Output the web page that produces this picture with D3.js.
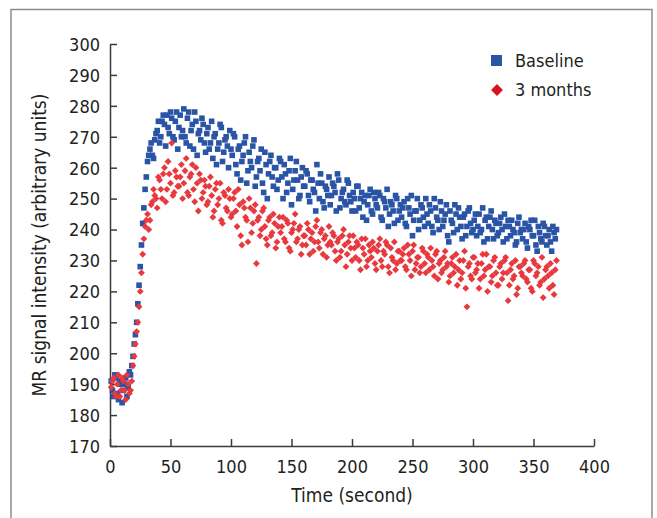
<!DOCTYPE html>
<html>
<head>
<meta charset="utf-8">
<script src="https://cdn.jsdelivr.net/npm/d3@7"></script>
<style>
  body { margin: 0; background: #fff; }
  svg text { font-family: "Liberation Sans Narrow", "DejaVu Sans Condensed", "Open Sans", sans-serif; fill: #231f20; }
</style>
</head>
<body>
<script>
// sample times (second), odd frames
var times = [
  1, 3, 5, 7, 9, 11, 13, 15, 17, 19,
  21, 23, 25, 27, 29, 31, 33, 35, 37, 39,
  41, 43, 45, 47, 49, 51, 53, 55, 57, 59,
  61, 63, 65, 67, 69, 71, 73, 75, 77, 79,
  81, 83, 85, 87, 89, 91, 93, 95, 97, 99,
  101, 103, 105, 107, 109, 111, 113, 115, 117, 119,
  121, 123, 125, 127, 129, 131, 133, 135, 137, 139,
  141, 143, 145, 147, 149, 151, 153, 155, 157, 159,
  161, 163, 165, 167, 169, 171, 173, 175, 177, 179,
  181, 183, 185, 187, 189, 191, 193, 195, 197, 199,
  201, 203, 205, 207, 209, 211, 213, 215, 217, 219,
  221, 223, 225, 227, 229, 231, 233, 235, 237, 239,
  241, 243, 245, 247, 249, 251, 253, 255, 257, 259,
  261, 263, 265, 267, 269, 271, 273, 275, 277, 279,
  281, 283, 285, 287, 289, 291, 293, 295, 297, 299,
  301, 303, 305, 307, 309, 311, 313, 315, 317, 319,
  321, 323, 325, 327, 329, 331, 333, 335, 337, 339,
  341, 343, 345, 347, 349, 351, 353, 355, 357, 359,
  361, 363, 365, 367, 369
];

var baseline = [
  191, 186, 192, 185, 190, 188, 192, 189, 193, 199,
  206, 216, 228, 242, 253, 262, 266, 264, 269, 272,
  268, 275, 274, 277, 271, 276, 269, 278, 273, 270,
  279, 268, 278, 272, 266, 275, 271, 269, 274, 265,
  273, 268, 263, 271, 266, 274, 262, 269, 267, 272,
  264, 270, 258, 267, 262, 268, 255, 265, 260, 269,
  257, 263, 266, 252, 261, 258, 264, 254, 260, 256,
  262, 250, 258, 255, 263, 253, 259, 256, 251, 260,
  254, 258, 249, 256, 252, 261, 250, 255, 247, 253,
  257, 251, 254, 246, 256, 250, 253, 248, 255, 249,
  252, 246, 254, 250, 244, 251, 248, 253, 245, 250,
  247, 251, 243, 249, 253, 245, 248, 242, 250, 246,
  244, 249, 241, 247, 251, 243, 246, 240, 248, 244,
  250, 242, 246, 239, 247, 243, 249, 241, 245, 238,
  246, 242, 248, 240, 244, 237, 245, 241, 247, 239,
  243, 238, 245, 240, 236, 244, 241, 246, 237, 242,
  239, 244, 236, 241, 243, 238, 240, 235, 242, 239,
  237, 242, 234, 240, 238, 243, 233, 239, 236, 241,
  235, 240, 233, 239, 240
];

var months3 = [
  189, 192, 186, 193, 188, 191, 185, 190, 188, 196,
  203, 210, 220, 232, 241, 245, 243, 249, 251, 247,
  256, 250, 260, 253, 258, 268, 252, 257, 254, 261,
  255, 263, 251, 258, 253, 260, 246, 256, 252, 254,
  249, 257, 244, 253, 248, 255, 242, 251, 246, 250,
  245, 252, 241, 248, 235, 247, 243, 250, 239, 246,
  229, 244, 240, 247, 237, 243, 238, 245, 234, 241,
  239, 244, 236, 242, 233, 240, 245, 237, 241, 235,
  238, 242, 232, 239, 236, 243, 234, 240, 237, 231,
  241, 235, 238, 230, 237, 233, 240, 228, 236, 234,
  238, 231, 235, 227, 234, 237, 230, 233, 236, 229,
  233, 237, 228, 232, 235, 226, 231, 236, 229, 233,
  230, 234, 227, 232, 225, 235, 229, 231, 228, 233,
  226, 231, 234, 228, 232, 224, 230, 227, 233, 229,
  225, 231, 228, 222, 230, 226, 233, 215, 229, 224,
  231, 227, 221, 229, 225, 232, 228, 223, 230, 226,
  222, 229, 226, 231, 217, 227, 224, 230, 221, 228,
  225, 230, 223, 227, 220, 229, 226, 222, 231, 224,
  228, 221, 226, 219, 230
];

// sample times (second), even frames
var timesB = [
  2, 4, 6, 8, 10, 12, 14, 16, 18, 20,
  22, 24, 26, 28, 30, 32, 34, 36, 38, 40,
  42, 44, 46, 48, 50, 52, 54, 56, 58, 60,
  62, 64, 66, 68, 70, 72, 74, 76, 78, 80,
  82, 84, 86, 88, 90, 92, 94, 96, 98, 100,
  102, 104, 106, 108, 110, 112, 114, 116, 118, 120,
  122, 124, 126, 128, 130, 132, 134, 136, 138, 140,
  142, 144, 146, 148, 150, 152, 154, 156, 158, 160,
  162, 164, 166, 168, 170, 172, 174, 176, 178, 180,
  182, 184, 186, 188, 190, 192, 194, 196, 198, 200,
  202, 204, 206, 208, 210, 212, 214, 216, 218, 220,
  222, 224, 226, 228, 230, 232, 234, 236, 238, 240,
  242, 244, 246, 248, 250, 252, 254, 256, 258, 260,
  262, 264, 266, 268, 270, 272, 274, 276, 278, 280,
  282, 284, 286, 288, 290, 292, 294, 296, 298, 300,
  302, 304, 306, 308, 310, 312, 314, 316, 318, 320,
  322, 324, 326, 328, 330, 332, 334, 336, 338, 340,
  342, 344, 346, 348, 350, 352, 354, 356, 358, 360,
  362, 364, 366, 368
];

var baselineB = [
  188, 193, 187, 191, 184, 190, 186, 194, 196, 203,
  210, 222, 235, 247, 257, 264, 268, 263, 271, 275,
  270, 277, 267, 273, 278, 270, 275, 266, 277, 272,
  270, 276, 267, 274, 278, 264, 272, 276, 268, 271,
  266, 275, 270, 261, 268, 273, 265, 270, 260, 266,
  271, 261, 266, 256, 264, 270, 259, 262, 267, 254,
  262, 259, 255, 265, 250, 262, 257, 260, 253, 263,
  257, 261, 252, 259, 248, 256, 262, 250, 257, 254,
  259, 251, 256, 253, 246, 255, 258, 249, 254, 251,
  248, 255, 252, 258, 247, 252, 249, 256, 251, 246,
  250, 254, 247, 252, 249, 243, 251, 246, 252, 248,
  252, 244, 250, 247, 241, 249, 246, 251, 243, 248,
  247, 242, 250, 245, 238, 246, 250, 243, 247, 241,
  245, 248, 241, 250, 244, 240, 246, 243, 248, 236,
  243, 239, 245, 247, 241, 244, 238, 246, 242, 240,
  245, 241, 239, 247, 243, 237, 244, 240, 243, 238,
  242, 240, 245, 237, 241, 243, 239, 236, 244, 240,
  240, 236, 241, 243, 238, 235, 241, 237, 242, 238,
  238, 236, 241, 237
];

var months3B = [
  191, 187, 190, 186, 192, 188, 193, 187, 191, 199,
  207, 215, 226, 237, 243, 240, 248, 253, 250, 257,
  253, 258, 249, 262, 255, 251, 259, 254, 257, 250,
  259, 252, 257, 261, 249, 255, 258, 250, 256, 248,
  254, 251, 246, 255, 250, 243, 252, 247, 253, 244,
  250, 246, 253, 238, 249, 244, 236, 247, 242, 248,
  243, 238, 246, 241, 235, 244, 239, 242, 236, 244,
  241, 237, 243, 234, 239, 242, 236, 240, 232, 238,
  235, 240, 237, 233, 241, 236, 239, 232, 238, 235,
  236, 239, 233, 236, 231, 238, 235, 232, 238, 230,
  234, 236, 230, 237, 232, 228, 235, 231, 234, 227,
  235, 230, 233, 236, 228, 234, 230, 227, 233, 230,
  232, 228, 235, 230, 233, 227, 231, 226, 234, 229,
  232, 227, 230, 225, 233, 229, 226, 231, 228, 223,
  229, 226, 232, 227, 224, 230, 221, 228, 225, 231,
  226, 229, 224, 232, 227, 220, 228, 225, 231, 222,
  228, 224, 230, 226, 222, 229, 225, 219, 228, 226,
  229, 224, 227, 221, 230, 225, 228, 223, 218, 227,
  225, 229, 222, 227
];

var xTicks = [0, 50, 100, 150, 200, 250, 300, 350, 400];
var yTicks = [170, 180, 190, 200, 210, 220, 230, 240, 250, 260, 270, 280, 290, 300];
var seriesNames = ["Baseline", "3 months"];

var W = 657, H = 518;
var mLeft = 110, mRight = 594, mTop = 44, mBottom = 446;

var svg = d3.select("body").append("svg")
    .attr("width", W)
    .attr("height", H);

// frame
svg.append("rect")
    .attr("x", 11).attr("y", 9.5)
    .attr("width", 641).attr("height", 520)
    .attr("fill", "none")
    .attr("stroke", "#8c8c8c")
    .attr("stroke-width", 1.5);

var x = d3.scaleLinear().domain([0, 400]).range([mLeft, mRight]);
var y = d3.scaleLinear().domain([170, 300]).range([mBottom, mTop]);

var xAxis = svg.append("g")
    .attr("transform", "translate(0," + mBottom + ")")
    .call(d3.axisBottom(x).tickValues(xTicks).tickSize(-7).tickPadding(14).tickSizeOuter(0));
var yAxis = svg.append("g")
    .attr("transform", "translate(" + mLeft + ",0)")
    .call(d3.axisLeft(y).tickValues(yTicks).tickSize(-7).tickPadding(10).tickSizeOuter(0));

[xAxis, yAxis].forEach(function(g) {
    g.select(".domain").attr("stroke", "#3a3a3a").attr("stroke-width", 1.5);
    g.selectAll(".tick line").attr("stroke", "#3a3a3a").attr("stroke-width", 1.5);
    g.selectAll(".tick text").style("font-size", "18px").attr("fill", "#231f20");
});
yAxis.selectAll(".tick text").attr("dy", "0.35em");

var pts = times.map(function(t, i) {
    return { t: t, b: baseline[i], m: months3[i] };
}).concat(timesB.map(function(t, i) {
    return { t: t, b: baselineB[i], m: months3B[i] };
}));

// baseline squares
svg.append("g").selectAll("rect")
    .data(pts)
    .join("rect")
    .attr("x", function(d) { return x(d.t) - 2.8; })
    .attr("y", function(d) { return y(d.b) - 2.8; })
    .attr("width", 5.6).attr("height", 5.6)
    .attr("fill", "#2a54a6");

// 3 months diamonds
var diamond = d3.symbol().type(d3.symbolDiamond2).size(30);
svg.append("g").selectAll("path")
    .data(pts)
    .join("path")
    .attr("d", diamond)
    .attr("transform", function(d) { return "translate(" + x(d.t) + "," + y(d.m) + ")"; })
    .attr("fill", "#e8393f");

// axis titles
svg.append("text")
    .attr("x", (mLeft + mRight) / 2)
    .attr("y", 502)
    .attr("text-anchor", "middle")
    .style("font-size", "19px")
    .text("Time (second)");

svg.append("text")
    .attr("transform", "translate(46," + ((mTop + mBottom) / 2) + ") rotate(-90)")
    .attr("text-anchor", "middle")
    .style("font-size", "19px")
    .text("MR signal intensity (arbitrary units)");

// legend
var legend = svg.append("g");
legend.append("rect")
    .attr("x", 491).attr("y", 55)
    .attr("width", 11).attr("height", 11)
    .attr("fill", "#2a54a6");
legend.append("path")
    .attr("d", d3.symbol().type(d3.symbolDiamond2).size(90))
    .attr("transform", "translate(497,90)")
    .attr("fill", "#d7141e");
legend.selectAll("text")
    .data(seriesNames)
    .join("text")
    .attr("x", 515)
    .attr("y", function(d, i) { return 61 + i * 29; })
    .attr("dy", "0.35em")
    .style("font-size", "18px")
    .text(function(d) { return d; });
</script>
</body>
</html>
